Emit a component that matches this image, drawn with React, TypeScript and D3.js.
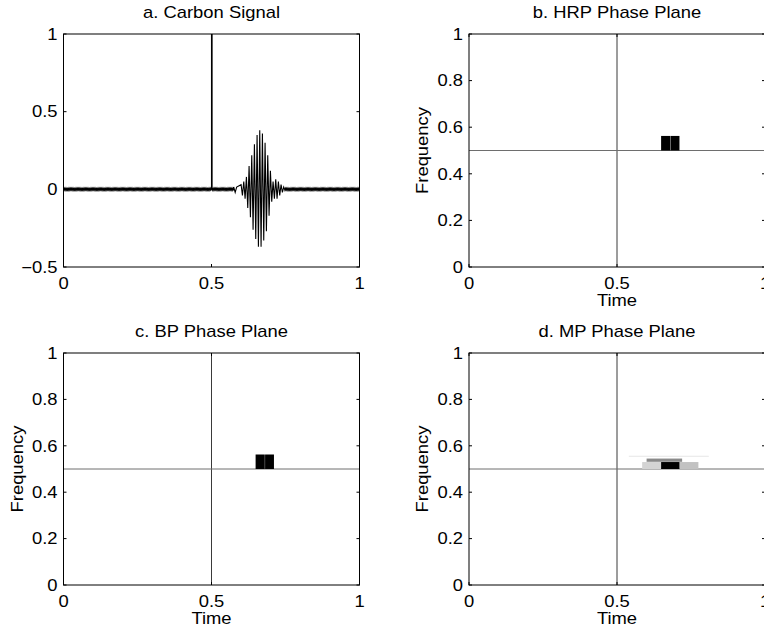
import React from "react";
import * as d3 from "d3";

// ---------- data ----------
const spikeTime = 0.5;
const spikeHeight = 1;
const rippleAmplitude = 0.006; // small sinusoid riding on zero
const sampleCount = 512;

// wave packet extreme values (time, value)
const packetTimes = [0.575, 0.58, 0.585, 0.6, 0.6045, 0.609, 0.6135, 0.618, 0.6225, 0.627, 0.6315, 0.636, 0.6405, 0.645, 0.6495, 0.654, 0.6585, 0.663, 0.6675, 0.672, 0.6765, 0.681, 0.6855, 0.69, 0.6945, 0.699, 0.7035, 0.708, 0.7125, 0.717, 0.7215, 0.726, 0.7305, 0.735, 0.7395, 0.744];
const packetValues = [0.015, -0.02, 0.015, 0.03, -0.04, 0.05, -0.06, 0.08, -0.12, 0.15, -0.18, 0.22, -0.26, 0.29, -0.32, 0.35, -0.37, 0.38, -0.37, 0.36, -0.33, 0.3, -0.27, 0.22, -0.17, 0.12, -0.08, 0.05, -0.06, 0.065, -0.06, 0.05, -0.04, 0.03, -0.02, 0.015];

const signalYTicks = [-0.5, 0, 0.5, 1];
const signalYTickLabels = ["\u22120.5", "0", "0.5", "1"];
const timeTicks = [0, 0.5, 1];
const timeTickLabels = ["0", "0.5", "1"];
const freqTicks = [0, 0.2, 0.4, 0.6, 0.8, 1];
const freqTickLabels = ["0", "0.2", "0.4", "0.6", "0.8", "1"];

// phase-plane tiles
const hrpT0 = [0.649, 0.681];
const hrpT1 = [0.68, 0.711];
const hrpF0 = [0.5, 0.5];
const hrpF1 = [0.5625, 0.5625];
const hrpShade = ["#000000", "#000000"];

const bpT0 = [0.649, 0.681];
const bpT1 = [0.68, 0.711];
const bpF0 = [0.5, 0.5];
const bpF1 = [0.5625, 0.5625];
const bpShade = ["#000000", "#000000"];

const mpT0 = [0.54, 0.585, 0.711, 0.6, 0.649];
const mpT1 = [0.81, 0.649, 0.775, 0.72, 0.711];
const mpF0 = [0.553, 0.5, 0.5, 0.531, 0.5];
const mpF1 = [0.557, 0.53, 0.53, 0.545, 0.53];
const mpShade = ["#e4e4e4", "#d4d4d4", "#c2c2c2", "#8a8a8a", "#000000"];

const sinusoidFreq = 0.5;
const diracTime = 0.5;

const titles = ["a. Carbon Signal", "b. HRP Phase Plane", "c. BP Phase Plane", "d. MP Phase Plane"];

// ---------- layout ----------
const W = 764;
const H = 634;
const FONT = "'Liberation Sans', Arial, Helvetica, sans-serif";
const SX = 1.15;

type Box = { x0: number; x1: number; y0: number; y1: number };
const panels: Box[] = [
  { x0: 63.5, x1: 359.5, y0: 34, y1: 267 },
  { x0: 469, x1: 765, y0: 34, y1: 267 },
  { x0: 63.5, x1: 359.5, y0: 353, y1: 585 },
  { x0: 469, x1: 765, y0: 353, y1: 585 },
];

function Txt({ x, y, text, anchor = "middle", rot = 0, size = 16, dy = "0" }: any) {
  return (
    <text
      transform={`translate(${x},${y}) rotate(${rot}) scale(${SX},1)`}
      textAnchor={anchor}
      dy={dy}
      fontFamily={FONT}
      fontSize={size}
      fill="#000"
    >
      {text}
    </text>
  );
}

function Frame({ box, xs, ys, yTicks, yLabels, xLabel, yLabel, title }: any) {
  const tl = 3;
  return (
    <g>
      <rect x={box.x0} y={box.y0} width={box.x1 - box.x0} height={box.y1 - box.y0} fill="none" stroke="#000" strokeWidth={1} />
      {timeTicks.map((t: number, i: number) => (
        <g key={"xt" + i}>
          <line x1={xs(t)} x2={xs(t)} y1={box.y1} y2={box.y1 - tl} stroke="#000" />
          <line x1={xs(t)} x2={xs(t)} y1={box.y0} y2={box.y0 + tl} stroke="#000" />
          <Txt x={xs(t)} y={box.y1 + 22} text={timeTickLabels[i]} />
        </g>
      ))}
      {yTicks.map((v: number, i: number) => (
        <g key={"yt" + i}>
          <line x1={box.x0} x2={box.x0 + tl} y1={ys(v)} y2={ys(v)} stroke="#000" />
          <line x1={box.x1} x2={box.x1 - tl} y1={ys(v)} y2={ys(v)} stroke="#000" />
          <Txt x={box.x0 - 6} y={ys(v)} text={yLabels[i]} anchor="end" dy="0.36em" />
        </g>
      ))}
      <Txt x={(box.x0 + box.x1) / 2} y={box.y0 - 16} text={title} />
      {xLabel && <Txt x={(box.x0 + box.x1) / 2} y={box.y1 + 39} text={xLabel} />}
      {yLabel && <Txt x={box.x0 - 41} y={(box.y0 + box.y1) / 2} text={yLabel} rot={-90} />}
    </g>
  );
}

function SignalPanel() {
  const box = panels[0];
  const xs = d3.scaleLinear().domain([0, 1]).range([box.x0, box.x1]);
  const ys = d3.scaleLinear().domain([-0.5, 1]).range([box.y1, box.y0]);
  const pts: [number, number][] = [];
  const step = 1 / sampleCount;
  let k = 0;
  const ripple = (t0: number, t1: number) => {
    for (let t = t0; t < t1; t += step) {
      pts.push([t, k % 2 === 0 ? rippleAmplitude : -rippleAmplitude]);
      k++;
    }
  };
  ripple(0, spikeTime);
  pts.push([spikeTime, 0], [spikeTime, spikeHeight], [spikeTime + 0.002, spikeHeight], [spikeTime + 0.002, 0]);
  ripple(spikeTime + step, packetTimes[0]);
  packetTimes.forEach((t, i) => pts.push([t, packetValues[i]]));
  ripple(packetTimes[packetTimes.length - 1] + step, 1);
  const line = d3.line<[number, number]>().x((d) => xs(d[0])).y((d) => ys(d[1]));
  return (
    <g>
      <defs>
        <clipPath id="clipA">
          <rect x={box.x0} y={box.y0} width={box.x1 - box.x0} height={box.y1 - box.y0} />
        </clipPath>
      </defs>
      <path d={line(pts) || ""} fill="none" stroke="#000" strokeWidth={1.1} clipPath="url(#clipA)" />
      <Frame box={box} xs={xs} ys={ys} yTicks={signalYTicks} yLabels={signalYTickLabels} title={titles[0]} />
    </g>
  );
}

function PhasePanel({ idx, t0, t1, f0, f1, shade }: any) {
  const box = panels[idx];
  const xs = d3.scaleLinear().domain([0, 1]).range([box.x0, box.x1]);
  const ys = d3.scaleLinear().domain([0, 1]).range([box.y1, box.y0]);
  return (
    <g>
      <line x1={xs(diracTime)} x2={xs(diracTime)} y1={box.y0} y2={box.y1} stroke="#3a3a3a" strokeWidth={1} />
      <line x1={box.x0} x2={box.x1} y1={ys(sinusoidFreq)} y2={ys(sinusoidFreq)} stroke="#6e6e6e" strokeWidth={1} />
      {t0.map((_: number, i: number) => (
        <rect
          key={i}
          x={xs(t0[i])}
          width={xs(t1[i]) - xs(t0[i])}
          y={ys(f1[i])}
          height={ys(f0[i]) - ys(f1[i])}
          fill={shade[i]}
        />
      ))}
      <Frame box={box} xs={xs} ys={ys} yTicks={freqTicks} yLabels={freqTickLabels} xLabel="Time" yLabel="Frequency" title={titles[idx]} />
    </g>
  );
}

export default function App() {
  return (
    <svg width={W} height={H} style={{ position: "absolute", left: 0, top: 0, background: "#fff" }}>
      <rect width={W} height={H} fill="#fff" />
      <SignalPanel />
      <PhasePanel idx={1} t0={hrpT0} t1={hrpT1} f0={hrpF0} f1={hrpF1} shade={hrpShade} />
      <PhasePanel idx={2} t0={bpT0} t1={bpT1} f0={bpF0} f1={bpF1} shade={bpShade} />
      <PhasePanel idx={3} t0={mpT0} t1={mpT1} f0={mpF0} f1={mpF1} shade={mpShade} />
    </svg>
  );
}
